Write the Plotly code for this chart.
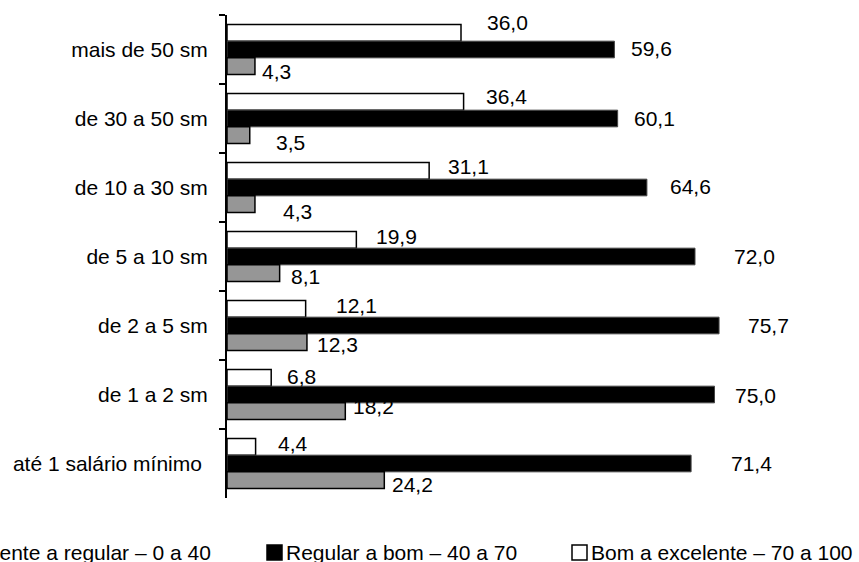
import plotly.graph_objects as go

# Income bands, listed top to bottom
categories = [
    "mais de 50 sm",
    "de 30 a 50 sm",
    "de 10 a 30 sm",
    "de 5 a 10 sm",
    "de 2 a 5 sm",
    "de 1 a 2 sm",
    "até 1 salário mínimo ",
]

# Share (%) in each score range
bom_excelente = [36.0, 36.4, 31.1, 19.9, 12.1, 6.8, 4.4]
regular_bom = [59.6, 60.1, 64.6, 72.0, 75.7, 75.0, 71.4]
deficiente_regular = [4.3, 3.5, 4.3, 8.1, 12.3, 18.2, 24.2]

series_names = [
    "Bom a excelente – 70 a 100",
    "Regular a bom – 40 a 70",
    "Deficiente a regular – 0 a 40",
]

FONT = "Liberation Sans, Arial, sans-serif"
FS = 21
W, H = 859, 562
L, T, B, R = 227, 15, 64, 47
PW, PH = W - L - R, H - T - B


def px(xp):
    return (xp - L) / PW


def py(yp):
    return (H - B - yp) / PH


def fmt(v):
    return f"{v:.1f}".replace(".", ",")


styles = [
    dict(color="white", line=dict(color="black", width=1.5)),
    dict(color="black", line=dict(color="#444444", width=1)),
    dict(color="#969696", line=dict(color="black", width=1.5)),
]
values = [bom_excelente, regular_bom, deficiente_regular]

fig = go.Figure()
for name, vals, st in zip(series_names, values, styles):
    fig.add_trace(go.Bar(
        y=categories, x=vals, orientation="h", name=name,
        marker=st, showlegend=False, hoverinfo="x+y",
    ))

# Value labels: pixel nudges from each bar end (dx right, dy down)
label_nudge = [
    # white bars
    [(46, -27), (43, -22), (39, -21), (40, -20), (51, -20), (30, -18), (37, -20)],
    # black bars
    [(37, -1), (37, 0), (44, -1), (59, 0), (49, 0), (41, 1), (60, 0)],
    # gray bars
    [(22, 22), (41, 24), (43, 24), (26, 20), (31, 19), (28, 12), (28, 21)],
]

annotations = []
for vals, nudges in zip(values, label_nudge):
    for cat, v, (dx, dy) in zip(categories, vals, nudges):
        annotations.append(dict(
            x=v, y=cat, xref="x", yref="y", text=fmt(v), showarrow=False,
            xanchor="center", yanchor="middle", xshift=dx, yshift=-dy,
            font=dict(family=FONT, size=FS, color="black"),
        ))

# Legend row along the bottom
legend_items = [
    # (label, fill, square left px, text anchor px, anchor side)
    ("Deficiente a regular – 0 a 40", "#969696", -70, 213, "right"),
    ("Regular a bom – 40 a 70", "black", 267, 284, "left"),
    ("Bom a excelente – 70 a 100", "white", 572, 589, "left"),
]
shapes = []
leg_y = 552
for label, fill, sq_x, tx, side in legend_items:
    shapes.append(dict(
        type="rect", xref="paper", yref="paper",
        x0=px(sq_x), x1=px(sq_x + 15), y0=py(leg_y + 8), y1=py(leg_y - 7),
        fillcolor=fill, line=dict(color="black", width=1.5),
    ))
    annotations.append(dict(
        x=px(tx), y=py(leg_y), xref="paper", yref="paper", text=label,
        showarrow=False, xanchor=side, yanchor="middle",
        font=dict(family=FONT, size=FS, color="black"),
    ))

fig.update_layout(
    width=W, height=H,
    margin=dict(l=L, r=R, t=T, b=B, autoexpand=False),
    paper_bgcolor="white", plot_bgcolor="white",
    barmode="group", bargap=0.275, bargroupgap=0,
    font=dict(family=FONT, size=FS, color="black"),
    xaxis=dict(range=[0, 90], visible=False),
    yaxis=dict(
        autorange=False, range=[6.5, -0.5],
        showline=True, linecolor="black", linewidth=2,
        ticks="outside", tickson="boundaries", ticklen=6,
        tickwidth=1.5, tickcolor="black",
        ticklabelstandoff=13,
        tickfont=dict(family=FONT, size=FS, color="black"),
        showgrid=False, zeroline=False,
    ),
    annotations=annotations,
    shapes=shapes,
)

fig.write_html("out.html")
